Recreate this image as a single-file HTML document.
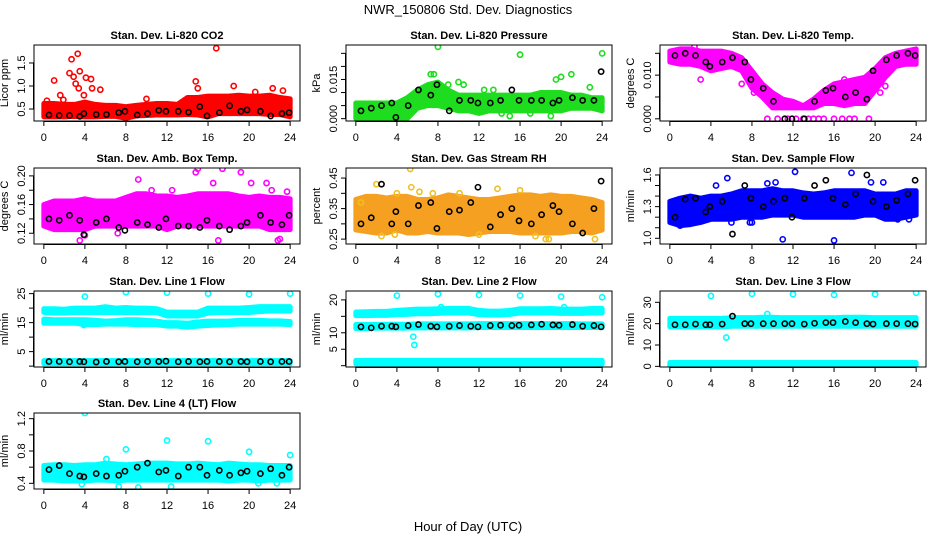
<!DOCTYPE html>
<html><head><meta charset="utf-8"><style>
html,body{margin:0;padding:0;background:#fff;}
svg{display:block;font-family:"Liberation Sans",sans-serif;}
</style></head><body>
<svg id="chart" width="936" height="540" viewBox="0 0 936 540" xmlns="http://www.w3.org/2000/svg">
<text x="468" y="14" text-anchor="middle" font-size="13">NWR_150806  Std. Dev. Diagnostics</text>
<text x="468" y="531" text-anchor="middle" font-size="13">Hour of Day (UTC)</text>
</svg>
<script>
// ---- shared data ----
const hours = [0,1,2,3,4,5,6,7,8,9,10,11,12,13,14,15,16,17,18,19,20,21,22,23,24];
const blackHours = [0.5,1.5,2.5,3.5,3.9,5.1,6.1,7.3,7.9,9.1,10.1,11.2,11.9,13.1,14.1,15.2,15.9,17.1,18.1,19.2,19.8,21.1,22.1,23.2,23.9];
const xTicks = [0,4,8,12,16,20,24];

// P1 CO2
const co2Lo = [0.33,0.33,0.33,0.34,0.33,0.33,0.34,0.34,0.3,0.35,0.36,0.37,0.37,0.37,0.38,0.37,0.33,0.4,0.4,0.4,0.4,0.4,0.38,0.38,0.33];
const co2Hi = [0.62,0.62,0.6,0.6,0.65,0.6,0.58,0.58,0.55,0.58,0.6,0.62,0.62,0.6,0.75,0.75,0.78,0.78,0.78,0.8,0.78,0.78,0.8,0.75,0.72];
const co2OutX = [1,2.5,2.7,3.3,2.9,3.1,3.4,3.5,4.1,4.6,4.7,5.5,1.6,3.9,10,14.8,15,16.8,18.5,20.6,22.3,23.3,0.3,1.9];
const co2OutY = [1.12,1.28,1.58,1.7,1.2,1.05,0.95,1.32,1.18,1.15,0.95,0.92,0.8,0.8,0.72,1.1,0.95,1.82,1.0,0.87,0.95,0.9,0.68,0.7];
const co2Black = [0.37,0.36,0.36,0.34,0.4,0.38,0.38,0.42,0.45,0.37,0.4,0.47,0.45,0.45,0.43,0.55,0.35,0.42,0.57,0.45,0.48,0.45,0.35,0.4,0.42];

// P2 Pressure
const presLo = [0,0,0,0,0,0,0.004,0.005,0.005,0.004,0.003,0.003,0.002,0.003,0.003,0.003,0.003,0.003,0.003,0.003,0.003,0.004,0.004,0.004,0.003];
const presHi = [0.006,0.006,0.006,0.006,0.006,0.008,0.011,0.013,0.014,0.011,0.009,0.009,0.009,0.009,0.009,0.009,0.009,0.009,0.01,0.01,0.01,0.009,0.009,0.008,0.008];
const presOutX = [8,16,24,7.3,7.6,21,19.5,20,9,14.2,15,17,19,22.8,10,10.5,12.5,13.4];
const presOutY = [0.0275,0.0245,0.025,0.017,0.017,0.017,0.015,0.016,0.013,0.002,0.001,0.002,0.001,0.012,0.014,0.013,0.011,0.011];
const presBlack = [0.003,0.004,0.005,0.006,0.0005,0.005,0.011,0.009,0.013,0.003,0.007,0.007,0.006,0.006,0.007,0.011,0.007,0.007,0.007,0.006,0.007,0.008,0.007,0.007,0.018];

// P3 Li-820 Temp
const tempLo = [0.013,0.0125,0.0125,0.012,0.011,0.0115,0.012,0.011,0.007,0.005,0.0025,0.0025,0.0025,0.0025,0.0025,0.0035,0.0035,0.003,0.0035,0.0035,0.0065,0.0095,0.012,0.0125,0.0125];
const tempHi = [0.0155,0.016,0.016,0.0155,0.0155,0.0155,0.015,0.014,0.011,0.008,0.006,0.0045,0.004,0.003,0.0045,0.0065,0.008,0.0085,0.009,0.0095,0.0115,0.014,0.015,0.0155,0.016];
const tempOutX = [9.5,10.5,11.5,12.3,13,13.5,14,14.5,15,16,16.8,17.5,18,19.4,2.4,0.8,3,7,8.2,17,20.5,21,4.5];
const tempOutY = [0,0,0,0,0,0,0,0,0,0,0,0,0,0,0.0165,0.0135,0.009,0.008,0.006,0.009,0.006,0.0075,0.012];
const tempBlack = [0.0145,0.015,0.0145,0.013,0.012,0.013,0.014,0.013,0.009,0.007,0.004,0.0,0.0,0.0,0.004,0.0065,0.007,0.005,0.006,0.0045,0.011,0.0135,0.0145,0.015,0.0145];

// P4 Amb Box Temp
const ambLo = [0.13,0.125,0.125,0.125,0.125,0.13,0.13,0.13,0.13,0.13,0.13,0.13,0.125,0.13,0.13,0.13,0.13,0.13,0.13,0.13,0.13,0.13,0.125,0.125,0.125];
const ambHi = [0.16,0.165,0.165,0.165,0.168,0.165,0.165,0.165,0.17,0.175,0.175,0.172,0.172,0.17,0.172,0.175,0.175,0.175,0.175,0.172,0.17,0.172,0.17,0.17,0.168];
const ambOutX = [9.2,12,3.5,15,14.8,17.4,19.2,20.2,21.7,22.2,12.5,23.7,17,23,10.5,0.3,7.2,22.8,4,16.5];
const ambOutY = [0.195,0.1,0.11,0.21,0.205,0.21,0.205,0.19,0.19,0.18,0.18,0.178,0.11,0.112,0.18,0.14,0.12,0.11,0.117,0.19];
const ambBlack = [0.14,0.138,0.145,0.138,0.118,0.135,0.14,0.128,0.124,0.135,0.132,0.128,0.14,0.13,0.13,0.128,0.138,0.13,0.125,0.13,0.135,0.145,0.135,0.132,0.145];

// P5 Gas Stream RH
const rhLo = [0.28,0.275,0.27,0.27,0.28,0.27,0.27,0.275,0.27,0.27,0.27,0.265,0.27,0.275,0.275,0.275,0.27,0.27,0.27,0.27,0.27,0.275,0.275,0.27,0.28];
const rhHi = [0.38,0.39,0.39,0.385,0.39,0.39,0.38,0.38,0.385,0.395,0.39,0.385,0.38,0.38,0.385,0.39,0.395,0.395,0.39,0.395,0.39,0.39,0.385,0.38,0.37];
const rhOutX = [5.3,5.4,2,2.5,3.8,4,7.5,12,16,17.5,18.5,18.8,23.3,0.5,10.1,13.8,6.2];
const rhOutY = [0.48,0.42,0.43,0.26,0.265,0.4,0.4,0.265,0.41,0.26,0.25,0.25,0.25,0.37,0.4,0.415,0.405];
const rhBlack = [0.3,0.32,0.43,0.3,0.34,0.3,0.36,0.37,0.285,0.34,0.345,0.37,0.42,0.29,0.33,0.35,0.31,0.3,0.33,0.36,0.34,0.3,0.27,0.35,0.44];

// P6 Sample Flow
const sfLo = [1.15,1.12,1.13,1.15,1.18,1.18,1.18,1.2,1.2,1.2,1.22,1.22,1.22,1.2,1.2,1.2,1.2,1.2,1.2,1.22,1.22,1.18,1.18,1.2,1.22];
const sfHi = [1.35,1.38,1.4,1.38,1.4,1.4,1.42,1.45,1.45,1.45,1.47,1.45,1.45,1.43,1.42,1.43,1.45,1.45,1.45,1.45,1.42,1.42,1.42,1.45,1.45];
const sfOutX = [12.2,16,11,17.7,5.6,8,19.6,23.3,9.5,10.3,6,4.5,20.8,22.2,2,1,7.8];
const sfOutY = [1.63,0.98,0.99,1.62,1.57,1.15,1.53,1.18,1.52,1.53,1.15,1.5,1.53,1.18,1.15,1.12,1.15];
const sfBlack = [1.2,1.37,1.38,1.25,1.3,1.35,1.04,1.5,1.38,1.3,1.35,1.38,1.2,1.38,1.5,1.55,1.38,1.32,1.42,1.6,1.35,1.3,1.36,1.42,1.55];

// P7 Line 1
const l1aLo = [18.5,18.3,18.3,18.5,18.5,18.5,18.5,18.5,18.5,18.5,18.5,18.5,17.3,17.3,17.3,17.3,18.3,18.5,18.5,18.5,18.5,18.8,19,19,19];
const l1aHi = [19.8,19.8,19.6,20,20,20,20.5,20,20.2,20,20,19.8,18.6,18.6,18.6,18.6,20,20,20,20,20.2,20.5,20.5,20.5,20.5];
const l1bLo = [14.8,14.8,14.8,14.8,14.3,14.3,14.5,14.5,14.5,14.3,14.3,14.3,13.8,13.8,13.4,13.8,14,14.2,14.3,14.5,14.5,14.5,14.5,14.5,14.3];
const l1bHi = [16.2,16,16,16,16,15.8,15.5,15.7,16,16,15.8,15.5,15,15,14.8,15.2,15.5,15.5,15.5,15.8,15.8,15.8,15.6,15.6,15.4];
const l1cLo = [0.8,0.8,0.8,0.8,0.8,0.8,0.8,0.8,0.8,0.8,0.8,0.8,0.8,0.8,0.8,0.8,0.8,0.8,0.8,0.8,0.8,0.8,0.8,0.8,0.8];
const l1cHi = [1.9,1.9,1.9,1.9,1.9,1.9,1.9,1.9,1.9,1.9,1.9,1.9,1.9,1.9,1.9,1.9,1.9,1.9,1.9,1.9,1.9,1.9,1.9,1.9,1.9];
const l1OutX = [4,8,12,16,20,24,3.9];
const l1OutY = [24,25.5,25.3,25,24.8,25,14.2];
const l1Black = [1.6,1.6,1.5,1.6,1.5,1.4,1.6,1.5,1.6,1.5,1.6,1.6,1.7,1.5,1.6,1.5,1.6,1.6,1.5,1.6,1.5,1.6,1.5,1.6,1.6];

// P8 Line 2
const l2aLo = [15.2,15.2,15.3,15.3,15.5,15.6,15.8,15.8,15.9,16,16,16,15.5,15.4,15.4,15.6,16,16,16,16,15.9,15.9,15.9,16,16];
const l2aHi = [16.3,16.4,16.5,16.5,16.8,17,17.2,17.2,17.3,17.4,17.4,17.4,16.8,16.6,16.6,16.8,17.3,17.3,17.3,17.4,17.2,17.2,17.2,17.4,17.4];
const l2bLo = [11.3,11.3,11.4,11.4,11.4,11.4,11.5,11.5,11.5,11.5,11.5,11.5,11.6,11.6,11.6,11.6,11.6,11.6,11.6,11.6,11.6,11.6,11.6,11.6,11.6];
const l2bHi = [12.5,12.5,12.5,12.6,12.6,12.6,12.7,12.7,12.7,12.7,12.7,12.7,12.8,12.8,12.8,12.8,12.8,12.8,12.8,12.8,12.8,12.8,12.7,12.7,12.7];
const l2cLo = [0.5,0.5,0.5,0.5,0.5,0.5,0.5,0.5,0.5,0.5,0.5,0.5,0.5,0.5,0.5,0.5,0.5,0.5,0.5,0.5,0.5,0.5,0.5,0.5,0.5];
const l2cHi = [1.6,1.6,1.6,1.6,1.6,1.6,1.6,1.6,1.6,1.6,1.6,1.6,1.6,1.6,1.6,1.6,1.6,1.6,1.6,1.6,1.6,1.6,1.6,1.6,1.6];
const l2OutX = [4,8,12,16,20,24,5.6,5.7,8.3,20.3];
const l2OutY = [21.3,21.8,21.5,21.3,21,20.8,8.8,6.3,17.8,17.8];
const l2Black = [11.8,11.5,12,12,11.8,12.2,12.5,12,11.8,12,12.2,12,11.8,12.2,12.3,12.2,12.3,12.4,12.6,12.4,12.3,12.5,12,12.2,11.8];

// P9 Line 3
const l3aLo = [18.5,18.5,18.5,18.5,18.5,18.5,18.8,18.8,18.8,18.8,18.8,18.8,18.8,18.8,18.8,18.8,18.8,18.8,18.8,18.8,18.8,18.8,18.8,18.8,18.8];
const l3aHi = [22.5,22.5,22.5,22.5,22.5,22.5,22.8,22.8,22.8,23,23,22.8,22.8,22.8,22.8,22.8,22.8,23,23,23,22.8,22.8,22.8,22.8,22.8];
const l3cLo = [0.3,0.3,0.3,0.3,0.3,0.3,0.3,0.3,0.3,0.3,0.3,0.3,0.3,0.3,0.3,0.3,0.3,0.3,0.3,0.3,0.3,0.3,0.3,0.3,0.3];
const l3cHi = [1.8,1.8,1.8,1.8,1.8,1.8,1.8,1.8,1.8,1.8,1.8,1.8,1.8,1.8,1.8,1.8,1.8,1.8,1.8,1.8,1.8,1.8,1.8,1.8,1.8];
const l3OutX = [4,8,12,16,20,24,5.5,9.5];
const l3OutY = [33,34,33.8,33.5,33.8,34.5,13.5,24.5];
const l3Black = [19.5,19.5,19.8,19.5,19.5,19.8,23.5,20,20,20,20,20,20,19.8,20.2,20.5,20.5,21,20.5,20,19.8,20,20,20,19.8];

// P10 Line 4
const l4Lo = [0.44,0.44,0.43,0.43,0.43,0.44,0.44,0.43,0.44,0.44,0.44,0.44,0.44,0.44,0.44,0.44,0.44,0.44,0.43,0.44,0.44,0.43,0.44,0.44,0.44];
const l4Hi = [0.62,0.63,0.63,0.62,0.63,0.63,0.65,0.64,0.63,0.64,0.65,0.65,0.65,0.64,0.64,0.65,0.64,0.63,0.65,0.64,0.63,0.63,0.62,0.62,0.62];
const l4OutX = [4,8,12,16,20,24,6.1,7.3,9.2,12.4,20.9,22.7,3.7];
const l4OutY = [1.27,0.82,0.93,0.92,0.79,0.75,0.7,0.36,0.35,0.36,0.4,0.4,0.39];
const l4Black = [0.57,0.62,0.52,0.49,0.48,0.52,0.49,0.5,0.55,0.6,0.65,0.54,0.56,0.49,0.6,0.6,0.5,0.56,0.5,0.53,0.55,0.52,0.58,0.5,0.6];

const NS = "http://www.w3.org/2000/svg";
const svg = document.getElementById("chart");
function mk(tag, attrs, parent){
  const e = document.createElementNS(NS, tag);
  for (const k in attrs) e.setAttribute(k, attrs[k]);
  (parent||svg).appendChild(e);
  return e;
}

const colL = [34,346,660], rowT = [45,168,291,413], W = 266, H = 76;
const panels = [
 {c:0,r:0,title:"Stan. Dev. Li-820 CO2",ylab:"Licor ppm",yr:[0.24,1.89],ticks:[0.5,1.0,1.5],labels:["0.5","1.0","1.5"],color:"#ff0000",bands:[[co2Lo,co2Hi]],ox:co2OutX,oy:co2OutY,bk:co2Black,name:"co2"},
 {c:1,r:0,title:"Stan. Dev. Li-820 Pressure",ylab:"kPa",yr:[-0.0009,0.0282],ticks:[0,0.005,0.01,0.015,0.02,0.025],labels:["0.000","","","0.015","",""],color:"#1edc1e",bands:[[presLo,presHi]],ox:presOutX,oy:presOutY,bk:presBlack,name:"pressure"},
 {c:2,r:0,title:"Stan. Dev. Li-820 Temp.",ylab:"degrees C",yr:[-0.0005,0.0169],ticks:[0,0.005,0.01,0.015],labels:["0.000","","0.010",""],color:"#ff00ff",bands:[[tempLo,tempHi]],ox:tempOutX,oy:tempOutY,bk:tempBlack,name:"li820-temp"},
 {c:0,r:1,title:"Stan. Dev. Amb. Box Temp.",ylab:"degrees C",yr:[0.105,0.211],ticks:[0.12,0.14,0.16,0.18,0.2],labels:["0.12","","0.16","","0.20"],color:"#ff00ff",bands:[[ambLo,ambHi]],ox:ambOutX,oy:ambOutY,bk:ambBlack,name:"amb-box-temp"},
 {c:1,r:1,title:"Stan. Dev. Gas Stream RH",ylab:"percent",yr:[0.234,0.483],ticks:[0.25,0.3,0.35,0.4,0.45],labels:["0.25","","0.35","","0.45"],color:"#f5a020",bands:[[rhLo,rhHi]],ox:rhOutX,oy:rhOutY,bk:rhBlack,name:"gas-rh",ocolor:"#f0c020"},
 {c:2,r:1,title:"Stan. Dev. Sample Flow",ylab:"ml/min",yr:[0.946,1.666],ticks:[1.0,1.1,1.2,1.3,1.4,1.5,1.6],labels:["1.0","","","1.3","","","1.6"],color:"#0000ff",bands:[[sfLo,sfHi]],ox:sfOutX,oy:sfOutY,bk:sfBlack,name:"sample-flow"},
 {c:0,r:2,title:"Stan. Dev. Line 1 Flow",ylab:"ml/min",yr:[-0.3,25.9],ticks:[0,5,10,15,20,25],labels:["","5","","15","","25"],color:"#00ffff",bands:[[l1aLo,l1aHi],[l1bLo,l1bHi],[l1cLo,l1cHi]],ox:l1OutX,oy:l1OutY,bk:l1Black,name:"line1-flow"},
 {c:1,r:2,title:"Stan. Dev. Line 2 Flow",ylab:"ml/min",yr:[-0.4,22.7],ticks:[0,5,10,15,20],labels:["","5","10","","20"],color:"#00ffff",bands:[[l2aLo,l2aHi],[l2bLo,l2bHi],[l2cLo,l2cHi]],ox:l2OutX,oy:l2OutY,bk:l2Black,name:"line2-flow"},
 {c:2,r:2,title:"Stan. Dev. Line 3 Flow",ylab:"ml/min",yr:[-0.3,35.3],ticks:[0,10,20,30],labels:["0","10","20","30"],color:"#00ffff",bands:[[l3aLo,l3aHi],[l3cLo,l3cHi]],ox:l3OutX,oy:l3OutY,bk:l3Black,name:"line3-flow"},
 {c:0,r:3,title:"Stan. Dev. Line 4 (LT) Flow",ylab:"ml/min",yr:[0.33,1.27],ticks:[0.4,0.6,0.8,1.0,1.2],labels:["0.4","","0.8","","1.2"],color:"#00ffff",bands:[[l4Lo,l4Hi]],ox:l4OutX,oy:l4OutY,bk:l4Black,name:"line4-flow"}
];

panels.forEach(p => {
  const L = colL[p.c], T = rowT[p.r], R = L + W, B = T + H;
  const xs = v => L + (v + 0.96) / 25.92 * W;
  const ys = v => B - (v - p.yr[0]) / (p.yr[1] - p.yr[0]) * H;
  const g = mk("g", {});
  
  
  const clipId = "clip-" + p.name;
  const cp = mk("clipPath", {id: clipId}, g);
  mk("rect", {x: L, y: T, width: W, height: H}, cp);
  const plot = mk("g", {"clip-path": "url(#" + clipId + ")"}, g);
  p.bands.forEach((bd, bi) => {
    const lo = bd[0], hi = bd[1];
    let pts = hours.map((h, i) => xs(h) + "," + ys(hi[i]));
    pts = pts.concat(hours.slice().reverse().map((h, j) => { const i = hours.length - 1 - j; return xs(h) + "," + ys(lo[i]); }));
    const poly = mk("polygon", {points: pts.join(" "), fill: p.color, stroke: p.color, "stroke-width": 5, "stroke-linejoin": "round"}, plot);
    
    
  });
  p.ox.forEach((x, i) => {
    const c = mk("circle", {cx: xs(x), cy: ys(p.oy[i]), r: 2.6, fill: "none", stroke: p.ocolor || p.color, "stroke-width": 1.6}, plot);
    
    
  });
  blackHours.forEach((x, i) => {
    const c = mk("circle", {cx: xs(x), cy: ys(p.bk[i]), r: 2.6, fill: "none", stroke: "#000", "stroke-width": 1.6}, plot);
    
    
  });
  const fr = mk("rect", {x: L, y: T, width: W, height: H, fill: "none", stroke: "#000", "stroke-width": 1}, g);
  
  
  const t = mk("text", {x: L + W / 2, y: T - 6, "text-anchor": "middle", "font-size": 11, "font-weight": "bold"}, g);
  t.textContent = p.title;
  
  
  const xa = mk("g", {}, g);
  
  
  mk("line", {x1: xs(xTicks[0]), x2: xs(xTicks[xTicks.length - 1]), y1: B + 0.5, y2: B + 0.5, stroke: "#000"}, xa);
  xTicks.forEach(v => {
    mk("line", {x1: xs(v), x2: xs(v), y1: B, y2: B + 5, stroke: "#000"}, xa);
    const tl = mk("text", {x: xs(v), y: B + 20, "text-anchor": "middle", "font-size": 11}, xa);
    tl.textContent = String(v);
  });
  const ya = mk("g", {}, g);
  
  
  mk("line", {x1: L - 0.5, x2: L - 0.5, y1: ys(p.ticks[0]), y2: ys(p.ticks[p.ticks.length - 1]), stroke: "#000"}, ya);
  p.ticks.forEach((v, i) => {
    mk("line", {x1: L - 5, x2: L, y1: ys(v), y2: ys(v), stroke: "#000"}, ya);
    if (p.labels[i]) {
      const tl = mk("text", {x: L - 13, y: ys(v) + 4, "text-anchor": "middle", "font-size": 11, transform: "rotate(-90 " + (L - 13) + " " + ys(v) + ")"}, ya);
      tl.textContent = p.labels[i];
    }
  });
  const yl = mk("text", {x: L - 26, y: T + H / 2, "text-anchor": "middle", "font-size": 11, transform: "rotate(-90 " + (L - 26) + " " + (T + H / 2) + ")"}, g);
  yl.textContent = p.ylab;
  
  
});
</script>
</body></html>
